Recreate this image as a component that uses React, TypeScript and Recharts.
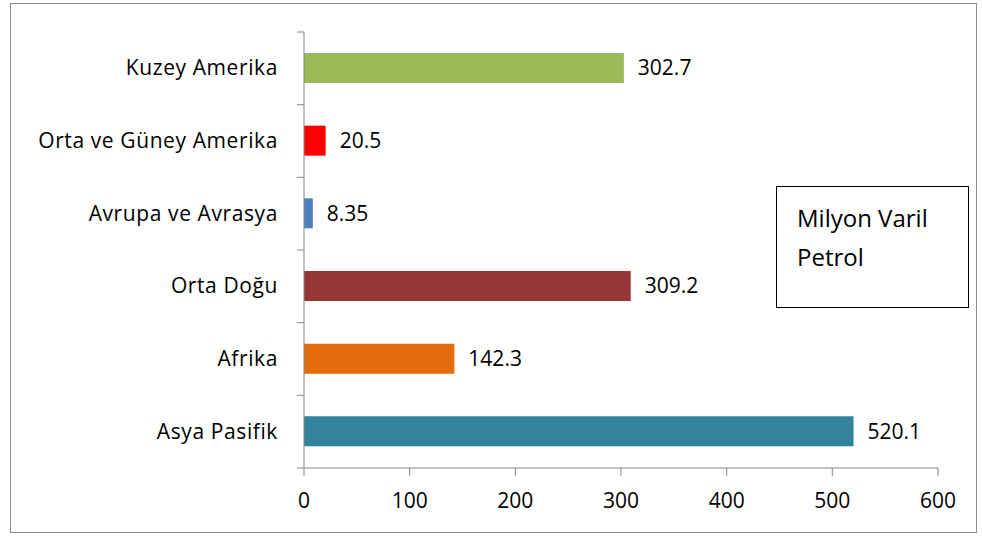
import { BarChart, Bar, XAxis, YAxis, Cell, LabelList } from "recharts";

const regions = [
  "Kuzey Amerika",
  "Orta ve Güney Amerika",
  "Avrupa ve Avrasya",
  "Orta Doğu",
  "Afrika",
  "Asya Pasifik",
];
const reserves = [302.7, 20.5, 8.35, 309.2, 142.3, 520.1];
const colors = ["#9BBB59", "#FF0000", "#4F81BD", "#953735", "#E46C0A", "#31849B"];
const xTicks = [0, 100, 200, 300, 400, 500, 600];

const data = regions.map((name, i) => ({ name, value: reserves[i] }));

const FONT = "Open Sans, sans-serif";
const W = 982;
const H = 536;
const TOP = 32;
const BOTTOM = 68;
const BAND = (H - TOP - BOTTOM) / regions.length;

function RegionTick(props: any) {
  const { x, y, payload, index } = props;
  const last = index === regions.length - 1;
  return (
    <g>
      <line x1={x + 1} x2={x + 8} y1={y - BAND / 2} y2={y - BAND / 2} stroke="#868686" />
      {last && <line x1={x + 1} x2={x + 8} y1={y + BAND / 2} y2={y + BAND / 2} stroke="#868686" />}
      <text
        x={x - 18}
        y={y}
        dy={7}
        textAnchor="end"
        fontSize={21}
        letterSpacing={0.6}
        fill="#000"
        fontFamily={FONT}
      >
        {payload.value}
      </text>
    </g>
  );
}

export default function App() {
  return (
    <div style={{ position: "fixed", left: 0, top: 0, width: W, height: H, background: "#fff" }}>
      <div
        style={{
          position: "absolute",
          left: 10,
          top: 3,
          width: 967,
          height: 530,
          border: "1.5px solid #8c8c8c",
          boxSizing: "border-box",
        }}
      />
      <BarChart
        width={W}
        height={H}
        data={data}
        layout="vertical"
        margin={{ top: TOP, right: 44, bottom: 0, left: 0 }}
        barCategoryGap={21}
        style={{ position: "absolute", left: 0, top: 0 }}
      >
        <XAxis
          type="number"
          domain={[0, 600]}
          ticks={xTicks}
          height={BOTTOM}
          stroke="#868686"
          tickSize={8}
          tickMargin={17}
          tick={{ fill: "#000", fontSize: 21, fontFamily: FONT }}
        />
        <YAxis
          type="category"
          dataKey="name"
          width={304}
          stroke="#868686"
          tickLine={false}
          tick={<RegionTick />}
        />
        <Bar dataKey="value" barSize={30} isAnimationActive={false}>
          {data.map((d, i) => (
            <Cell key={d.name} fill={colors[i]} />
          ))}
          <LabelList
            dataKey="value"
            position="right"
            offset={14}
            fill="#000"
            fontSize={21}
            fontFamily={FONT}
          />
        </Bar>
      </BarChart>
      <div
        style={{
          position: "absolute",
          left: 776,
          top: 186,
          width: 193,
          height: 122,
          border: "1.5px solid #000",
          boxSizing: "border-box",
          padding: "11px 0 0 20px",
          fontFamily: FONT,
          fontSize: 24,
          lineHeight: "39px",
          color: "#000",
        }}
      >
        Milyon Varil
        <br />
        Petrol
      </div>
    </div>
  );
}
